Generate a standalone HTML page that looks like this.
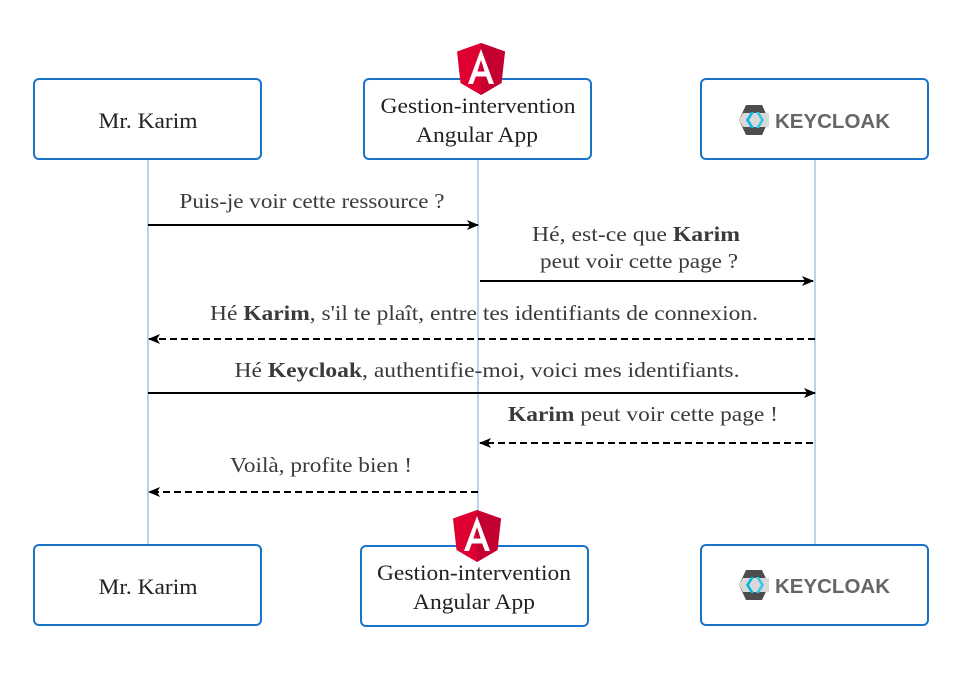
<!DOCTYPE html>
<html><head><meta charset="utf-8"><style>
html,body{margin:0;padding:0;background:#fff;}
svg{display:block;}
.t{font-family:"Liberation Serif",serif;font-size:21px;fill:#3a3a3a;text-anchor:middle;}
.h{font-size:22px;fill:#222;}
.b{font-weight:bold;}
.kc{font-family:"Liberation Sans",sans-serif;font-weight:bold;font-size:20px;fill:#666;}
</style></head><body>
<svg width="970" height="683" viewBox="0 0 970 683" xmlns="http://www.w3.org/2000/svg">
<defs>
<marker id="ah" markerWidth="12" markerHeight="10" refX="11" refY="5" orient="auto" markerUnits="userSpaceOnUse">
<path d="M0,0 L12,5 L0,10 L3,5 Z" fill="#000"/>
</marker>
<g id="shield">
<polygon points="24,0 48,8.5 44.5,40 24,52 3.5,40 0,8.5" fill="#dd0031"/>
<polygon points="24,0 48,8.5 44.5,40 24,52" fill="#c3002f"/>
<path d="M24,6 L11,41 L16,41 L18.8,33.5 L29.2,33.5 L32,41 L37,41 Z M24,17 L27.6,28.5 L20.4,28.5 Z" fill="#fff" fill-rule="evenodd"/>
</g>
<g id="kc">
<polygon points="7,0 23,0 30,15 23,30 7,30 0,15" fill="#4d4d4d"/>
<polygon points="0,15 4,8 30,8 30,22 4,22" fill="#d9d9d9"/>
<path d="M12,7 L7,15 L12,23 L15,23 L10,15 L15,7 Z" fill="#00b8e3"/>
<path d="M17,7 L22,15 L17,23 L20,23 L25,15 L20,7 Z" fill="#33c6e9"/>
<text x="36" y="23" class="kc" textLength="115" lengthAdjust="spacingAndGlyphs">KEYCLOAK</text>
</g>
</defs>

<g stroke="#7ea6e0" stroke-width="1">
<line x1="148" y1="159" x2="148" y2="545"/>
<line x1="478" y1="159" x2="478" y2="546"/>
<line x1="815" y1="159" x2="815" y2="545"/>
</g>

<g fill="#fff" stroke="#1a73c8" stroke-width="2">
<rect x="34" y="79" width="227" height="80" rx="5"/>
<rect x="364" y="79" width="227" height="80" rx="5"/>
<rect x="701" y="79" width="227" height="80" rx="5"/>
<rect x="34" y="545" width="227" height="80" rx="5"/>
<rect x="361" y="546" width="227" height="80" rx="5"/>
<rect x="701" y="545" width="227" height="80" rx="5"/>
</g>

<use href="#shield" x="457" y="43"/>
<use href="#shield" x="453" y="510"/>
<use href="#kc" x="739" y="105"/>
<use href="#kc" x="739" y="570"/>

<text x="148" y="128" class="t h" textLength="99" lengthAdjust="spacingAndGlyphs">Mr. Karim</text>
<text x="478" y="113" class="t h" textLength="195" lengthAdjust="spacingAndGlyphs">Gestion-intervention</text>
<text x="477" y="142" class="t h" textLength="122" lengthAdjust="spacingAndGlyphs">Angular App</text>
<text x="148" y="594" class="t h" textLength="99" lengthAdjust="spacingAndGlyphs">Mr. Karim</text>
<text x="474" y="580" class="t h" textLength="194" lengthAdjust="spacingAndGlyphs">Gestion-intervention</text>
<text x="474" y="609" class="t h" textLength="122" lengthAdjust="spacingAndGlyphs">Angular App</text>

<g stroke="#000" stroke-width="2" fill="none">
<line x1="148" y1="225" x2="478" y2="225" marker-end="url(#ah)"/>
<line x1="480" y1="281" x2="813" y2="281" marker-end="url(#ah)"/>
<line x1="815" y1="339" x2="149" y2="339" stroke-dasharray="7,4" marker-end="url(#ah)"/>
<line x1="148" y1="393" x2="815" y2="393" marker-end="url(#ah)"/>
<line x1="813" y1="443" x2="480" y2="443" stroke-dasharray="7,4" marker-end="url(#ah)"/>
<line x1="478" y1="492" x2="149" y2="492" stroke-dasharray="7,4" marker-end="url(#ah)"/>
</g>

<text x="312" y="208" class="t" textLength="265" lengthAdjust="spacingAndGlyphs">Puis-je voir cette ressource ?</text>
<text x="636" y="241" class="t" textLength="208" lengthAdjust="spacingAndGlyphs">Hé, est-ce que <tspan class="b">Karim</tspan></text>
<text x="639" y="268" class="t" textLength="198" lengthAdjust="spacingAndGlyphs">peut voir cette page ?</text>
<text x="484" y="320" class="t" textLength="548" lengthAdjust="spacingAndGlyphs">Hé <tspan class="b">Karim</tspan>, s'il te plaît, entre tes identifiants de connexion.</text>
<text x="487" y="377" class="t" textLength="505" lengthAdjust="spacingAndGlyphs">Hé <tspan class="b">Keycloak</tspan>, authentifie-moi, voici mes identifiants.</text>
<text x="643" y="421" class="t" textLength="270" lengthAdjust="spacingAndGlyphs"><tspan class="b">Karim</tspan> peut voir cette page !</text>
<text x="321" y="472" class="t" textLength="182" lengthAdjust="spacingAndGlyphs">Voilà, profite bien !</text>
</svg>
</body></html>
